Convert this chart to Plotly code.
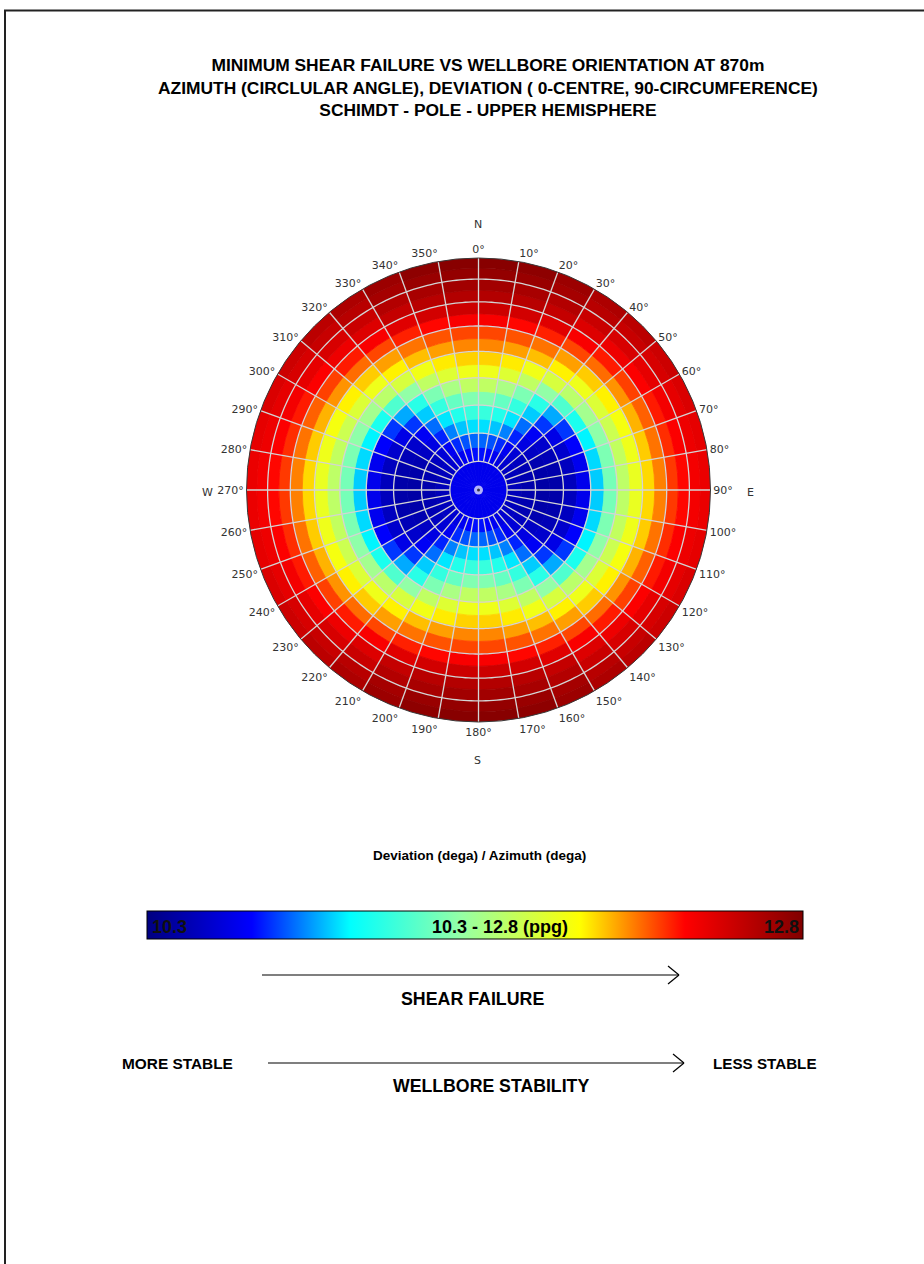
import numpy as np
import plotly.graph_objects as go

W, H = 924, 1264

# ---------------------------------------------------------------------------
# Data
# ---------------------------------------------------------------------------
# Centres of the 10-degree azimuth sectors in the first quadrant (deg from N)
AZ_SECTOR_CENTRES = [5, 15, 25, 35, 45, 55, 65, 75, 85]

# Deviation band edges (deg): 0 = vertical (pole), 90 = horizontal (rim)
DEV_BAND_EDGES = [10, 15, 20, 25, 30, 35, 40, 45, 50, 55, 60, 65, 70, 75, 80, 85, 90]

# Minimum mud weight for shear failure (ppg): one row per azimuth sector,
# one column per deviation band (10-15, 15-20, ..., 85-90)
SHEAR_MW_PPG = [
    [10.72, 10.85, 11.03, 11.23, 11.44, 11.68, 11.88, 12.02, 12.14, 12.24, 12.37, 12.53, 12.62, 12.68, 12.73, 12.77],
    [10.70, 10.82, 10.99, 11.17, 11.36, 11.59, 11.81, 11.98, 12.10, 12.22, 12.34, 12.51, 12.60, 12.66, 12.71, 12.75],
    [10.66, 10.76, 10.89, 11.04, 11.22, 11.43, 11.68, 11.89, 12.05, 12.17, 12.30, 12.46, 12.56, 12.62, 12.67, 12.70],
    [10.61, 10.66, 10.75, 10.86, 11.00, 11.19, 11.49, 11.78, 11.97, 12.10, 12.24, 12.37, 12.47, 12.54, 12.60, 12.64],
    [10.55, 10.57, 10.61, 10.67, 10.78, 10.95, 11.30, 11.66, 11.88, 12.03, 12.18, 12.31, 12.41, 12.49, 12.55, 12.59],
    [10.51, 10.50, 10.51, 10.54, 10.62, 10.78, 11.15, 11.56, 11.80, 11.97, 12.12, 12.25, 12.36, 12.44, 12.49, 12.53],
    [10.49, 10.46, 10.45, 10.47, 10.54, 10.69, 11.06, 11.48, 11.73, 11.91, 12.07, 12.20, 12.31, 12.39, 12.44, 12.48],
    [10.48, 10.45, 10.43, 10.44, 10.50, 10.65, 11.02, 11.43, 11.69, 11.88, 12.03, 12.17, 12.28, 12.36, 12.41, 12.44],
    [10.48, 10.44, 10.42, 10.43, 10.49, 10.64, 11.00, 11.41, 11.67, 11.86, 12.01, 12.15, 12.26, 12.34, 12.39, 12.42],
]

# Mud weight over the near-vertical cap (deviation < 10 deg)
VERTICAL_CAP_MW_PPG = 10.64

MW_MIN, MW_MAX = 10.3, 12.8

AZIMUTH_TICKS = list(range(0, 360, 10))
AZIMUTH_TICK_TEXT = [f"{a}\u00b0" for a in AZIMUTH_TICKS]
GRID_DEVIATIONS = [10, 20, 30, 40, 50, 60, 70, 80]

TITLE_LINES = [
    "MINIMUM SHEAR FAILURE VS WELLBORE ORIENTATION AT 870m",
    "AZIMUTH (CIRCLULAR ANGLE), DEVIATION ( 0-CENTRE, 90-CIRCUMFERENCE)",
    "SCHIMDT - POLE - UPPER HEMISPHERE",
]

JET_SCALE = [
    [0.00, "rgb(0,0,128)"],
    [0.16, "rgb(0,0,255)"],
    [0.31, "rgb(0,255,255)"],
    [0.48, "rgb(150,255,165)"],
    [0.66, "rgb(255,255,0)"],
    [0.82, "rgb(255,0,0)"],
    [1.00, "rgb(128,0,0)"],
]

GRID_COLOR = "rgb(212,212,212)"
TEXT_FONT = "Liberation Sans, Arial, sans-serif"
TICK_FONT = "DejaVu Sans, Verdana, sans-serif"


def schmidt(dev_deg):
    """Equal-area (Schmidt) radius for a deviation angle, rim = 1."""
    return float(np.sqrt(2.0) * np.sin(np.radians(dev_deg) / 2.0))


def sector_row(az_centre):
    """Field is mirror-symmetric about the N-S and E-W axes."""
    a = az_centre % 180
    if a > 90:
        a = 180 - a
    return SHEAR_MW_PPG[AZ_SECTOR_CENTRES.index(a)]


def px(x):
    return x / W


def py(y):
    return 1 - y / H


# ---------------------------------------------------------------------------
# Stereonet cells
# ---------------------------------------------------------------------------
theta, radius, base, mw = [], [], [], []
for az in range(5, 360, 10):
    row = sector_row(az)
    theta.append(az)
    base.append(0.0)
    radius.append(schmidt(DEV_BAND_EDGES[0]))
    mw.append(VERTICAL_CAP_MW_PPG)
    for j, value in enumerate(row):
        lo, hi = DEV_BAND_EDGES[j], DEV_BAND_EDGES[j + 1]
        theta.append(az)
        base.append(schmidt(lo))
        radius.append(schmidt(hi) - schmidt(lo))
        mw.append(value)

fig = go.Figure()
fig.add_trace(go.Barpolar(
    theta=theta, r=radius, base=base, width=[10] * len(theta),
    marker=dict(color=mw, coloraxis="coloraxis",
                line=dict(color=mw, coloraxis="coloraxis", width=0.8)),
    hoverinfo="skip", showlegend=False,
))

# Deviation rings
ring_r, ring_t = [], []
for dev in GRID_DEVIATIONS:
    ring_r += [schmidt(dev)] * 361 + [None]
    ring_t += list(range(361)) + [None]
fig.add_trace(go.Scatterpolar(r=ring_r, theta=ring_t, mode="lines",
                              line=dict(color=GRID_COLOR, width=1.3),
                              hoverinfo="skip", showlegend=False))

# Azimuth spokes (start at the 10-degree ring)
spoke_r, spoke_t = [], []
for az in AZIMUTH_TICKS:
    spoke_r += [schmidt(GRID_DEVIATIONS[0]), 1.0, None]
    spoke_t += [az, az, None]
fig.add_trace(go.Scatterpolar(r=spoke_r, theta=spoke_t, mode="lines",
                              line=dict(color=GRID_COLOR, width=1.3),
                              hoverinfo="skip", showlegend=False))

# Vertical well marker at the pole
fig.add_trace(go.Scatterpolar(r=[0, 0], theta=[0, 0], mode="markers",
                              marker=dict(size=[9, 3], color=["white", "black"],
                                          line=dict(width=0)),
                              hoverinfo="skip", showlegend=False))

# ---------------------------------------------------------------------------
# Layout
# ---------------------------------------------------------------------------
cx, cy, R = 478.5, 490, 232
fig.update_layout(
    width=W, height=H, autosize=False,
    margin=dict(l=0, r=0, t=0, b=0),
    paper_bgcolor="white", plot_bgcolor="white",
    polar=dict(
        domain=dict(x=[px(cx - R), px(cx + R)], y=[py(cy + R), py(cy - R)]),
        bgcolor="white",
        radialaxis=dict(range=[0, 1], visible=False, showgrid=False),
        angularaxis=dict(
            rotation=90, direction="clockwise",
            tickmode="array", tickvals=AZIMUTH_TICKS, ticktext=AZIMUTH_TICK_TEXT,
            tickfont=dict(family=TICK_FONT, size=11, color="#333333"),
            showgrid=False, showline=True, linecolor="#3a3a3a", linewidth=1,
            ticks="",
        ),
    ),
    coloraxis=dict(
        colorscale=JET_SCALE, cmin=MW_MIN, cmax=MW_MAX,
        colorbar=dict(
            orientation="h", lenmode="pixels", len=656,
            thicknessmode="pixels", thickness=28,
            x=px(475), xanchor="center", y=py(940), yanchor="bottom",
            xpad=0, ypad=0, outlinecolor="black", outlinewidth=1,
            showticklabels=False, ticks="", title=dict(text=""),
        ),
    ),
)

annotations = []


def label(text, x, y, size, bold=True, family=TEXT_FONT, xanchor="center", color="black"):
    annotations.append(dict(
        text=f"<b>{text}</b>" if bold else text,
        x=px(x), y=py(y), xref="paper", yref="paper",
        xanchor=xanchor, yanchor="middle", showarrow=False,
        font=dict(family=family, size=size, color=color),
    ))


# Title block as one centred multi-line text
label("<br>".join(TITLE_LINES), 488, 87, 17.4)

label("N", 478, 225, 11, bold=False, family=TICK_FONT, color="#333333")
label("S", 478, 760, 11, bold=False, family=TICK_FONT, color="#333333")
label("W", 207, 492, 11, bold=False, family=TICK_FONT, color="#333333")
label("E", 750, 492, 11, bold=False, family=TICK_FONT, color="#333333")

label("Deviation (dega) / Azimuth (dega)", 480, 855, 13.5)

label(f"{MW_MIN}", 150, 927, 18, xanchor="left", color="#101010")
label(f"{MW_MIN} - {MW_MAX} (ppg)", 500, 927, 18)
label(f"{MW_MAX}", 801, 927, 18, xanchor="right", color="#101010")

label("SHEAR FAILURE", 472, 999, 17.8)
label("MORE STABLE", 177, 1063, 15.4)
label("LESS STABLE", 765, 1063, 15.2)
label("WELLBORE STABILITY", 491, 1086, 17.7)

fig.update_layout(annotations=annotations)

shapes = []


def line(x0, y0, x1, y1, width=1.2, color="black"):
    shapes.append(dict(type="line", xref="paper", yref="paper",
                       x0=px(x0), y0=py(y0), x1=px(x1), y1=py(y1),
                       line=dict(color=color, width=width)))


# Direction arrows with open heads
for x0, x1, y in [(262, 679, 975), (268, 684, 1063)]:
    line(x0, y, x1, y)
    line(x1 - 11, y - 9, x1, y)
    line(x1 - 11, y + 9, x1, y)

# Page frame (top and left edges)
line(4, 10.5, W, 10.5, width=2, color="#222222")
line(5, 10, 5, H, width=2, color="#222222")

fig.update_layout(shapes=shapes)

fig.write_html("out.html")
